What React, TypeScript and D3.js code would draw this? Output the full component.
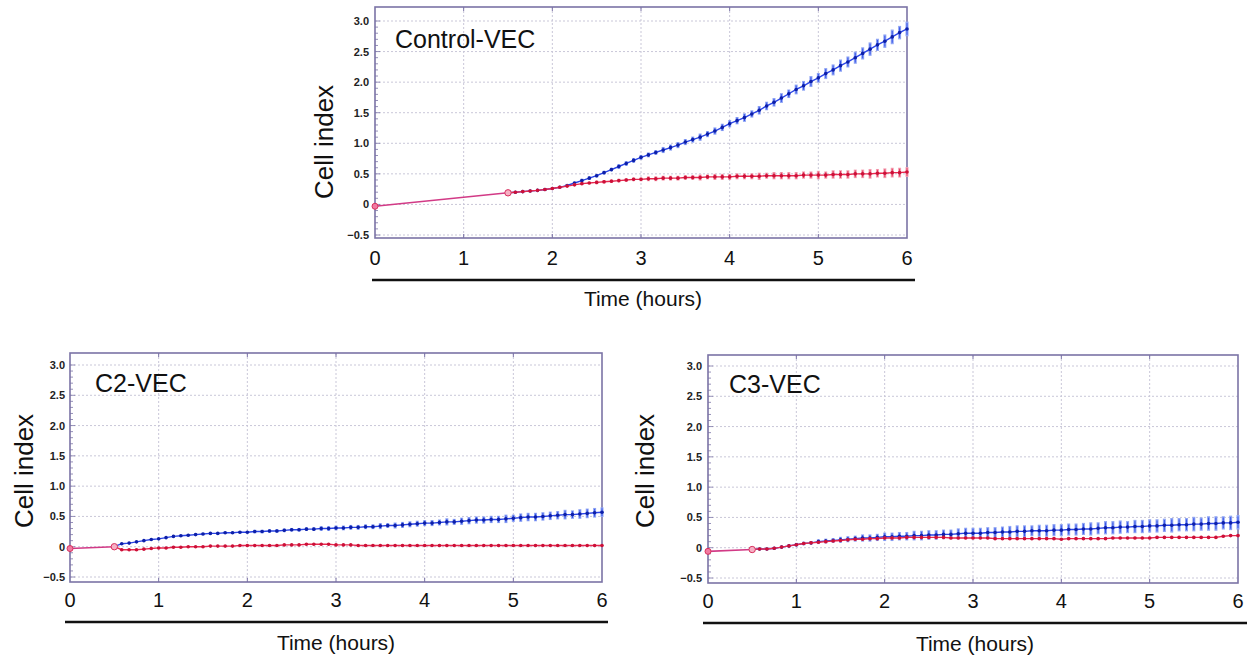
import React, { useRef, useEffect } from 'react';
import * as d3 from 'd3';

// readings every 5 minutes after the first marked point
const STEP = 5 / 60;

const xTicks = [0, 1, 2, 3, 4, 5, 6];
const yTicks = [-0.5, 0, 0.5, 1.0, 1.5, 2.0, 2.5, 3.0];
const yTickLabels = ['\u22120.5', '0', '0.5', '1.0', '1.5', '2.0', '2.5', '3.0'];

// Control-VEC
const controlStart = -0.03;
const controlT0 = 1.5;
const controlBlue = [
  0.19, 0.20, 0.21, 0.22, 0.23, 0.245, 0.26, 0.28, 0.31, 0.35,
  0.39, 0.43, 0.47, 0.52, 0.57, 0.62, 0.67, 0.72, 0.77, 0.81,
  0.85, 0.89, 0.93, 0.97, 1.02, 1.06, 1.10, 1.15, 1.20, 1.26,
  1.32, 1.37, 1.42, 1.48, 1.54, 1.61, 1.67, 1.74, 1.81, 1.88,
  1.94, 2.01, 2.07, 2.14, 2.20, 2.27, 2.33, 2.40, 2.47, 2.54,
  2.61, 2.67, 2.74, 2.81, 2.87,
];
const controlBlueErr = [
  0.01, 0.01, 0.01, 0.01, 0.01, 0.02, 0.02, 0.02, 0.02, 0.02,
  0.03, 0.03, 0.03, 0.03, 0.03, 0.04, 0.04, 0.04, 0.04, 0.04,
  0.04, 0.05, 0.05, 0.05, 0.05, 0.05, 0.06, 0.05, 0.06, 0.06,
  0.06, 0.06, 0.07, 0.06, 0.07, 0.07, 0.07, 0.08, 0.07, 0.08,
  0.08, 0.09, 0.08, 0.09, 0.09, 0.10, 0.09, 0.10, 0.10, 0.11,
  0.10, 0.11, 0.12, 0.11, 0.12,
];
const controlRed = [
  0.19, 0.20, 0.21, 0.22, 0.23, 0.245, 0.26, 0.28, 0.30, 0.32,
  0.34, 0.35, 0.36, 0.37, 0.38, 0.39, 0.40, 0.41, 0.41, 0.42,
  0.42, 0.43, 0.43, 0.43, 0.44, 0.44, 0.44, 0.45, 0.45, 0.45,
  0.45, 0.46, 0.46, 0.46, 0.46, 0.47, 0.47, 0.47, 0.47, 0.47,
  0.48, 0.48, 0.48, 0.48, 0.49, 0.49, 0.49, 0.50, 0.50, 0.50,
  0.51, 0.51, 0.52, 0.52, 0.53,
];
const controlRedErr = [
  0.01, 0.01, 0.01, 0.01, 0.01, 0.01, 0.02, 0.02, 0.02, 0.02,
  0.02, 0.02, 0.03, 0.03, 0.03, 0.03, 0.03, 0.03, 0.03, 0.04,
  0.04, 0.04, 0.04, 0.04, 0.04, 0.04, 0.05, 0.04, 0.05, 0.05,
  0.05, 0.05, 0.05, 0.05, 0.06, 0.05, 0.06, 0.06, 0.06, 0.06,
  0.06, 0.06, 0.07, 0.06, 0.07, 0.07, 0.07, 0.07, 0.07, 0.08,
  0.07, 0.08, 0.08, 0.08, 0.08,
];

// C2-VEC
const c2Start = -0.03;
const c2T0 = 0.5;
const c2Blue = [
  0.00, 0.05, 0.06, 0.08, 0.10, 0.12, 0.13, 0.15, 0.17, 0.18,
  0.19, 0.20, 0.21, 0.22, 0.22, 0.23, 0.23, 0.24, 0.24, 0.25,
  0.25, 0.26, 0.26, 0.27, 0.28, 0.28, 0.29, 0.29, 0.30, 0.30,
  0.31, 0.31, 0.32, 0.32, 0.33, 0.33, 0.34, 0.35, 0.35, 0.36,
  0.37, 0.38, 0.39, 0.39, 0.40, 0.41, 0.41, 0.42, 0.43, 0.44,
  0.44, 0.45, 0.45, 0.46, 0.47, 0.48, 0.49, 0.49, 0.50, 0.51,
  0.52, 0.53, 0.53, 0.54, 0.55, 0.56, 0.57,
];
const c2BlueErr = [
  0.00, 0.01, 0.01, 0.01, 0.01, 0.01, 0.01, 0.01, 0.01, 0.02,
  0.02, 0.02, 0.02, 0.02, 0.02, 0.02, 0.02, 0.02, 0.02, 0.03,
  0.03, 0.03, 0.03, 0.03, 0.03, 0.03, 0.03, 0.03, 0.04, 0.04,
  0.04, 0.04, 0.04, 0.04, 0.04, 0.04, 0.05, 0.04, 0.05, 0.05,
  0.05, 0.05, 0.05, 0.05, 0.05, 0.06, 0.05, 0.06, 0.06, 0.06,
  0.06, 0.06, 0.06, 0.07, 0.06, 0.07, 0.07, 0.07, 0.07, 0.07,
  0.07, 0.08, 0.07, 0.08, 0.08, 0.08, 0.08,
];
const c2Red = [
  0.00, -0.05, -0.05, -0.05, -0.04, -0.03, -0.02, -0.02, -0.01, -0.01,
  0.00, 0.00, 0.00, 0.01, 0.01, 0.01, 0.01, 0.02, 0.02, 0.02,
  0.02, 0.02, 0.02, 0.03, 0.03, 0.03, 0.04, 0.04, 0.04, 0.04,
  0.03, 0.03, 0.03, 0.02, 0.02, 0.02, 0.02, 0.02, 0.02, 0.02,
  0.02, 0.02, 0.02, 0.02, 0.02, 0.02, 0.02, 0.02, 0.02, 0.02,
  0.02, 0.02, 0.02, 0.02, 0.02, 0.02, 0.02, 0.02, 0.02, 0.02,
  0.02, 0.02, 0.02, 0.02, 0.02, 0.02, 0.02,
];
const c2RedErr = [
  0.00, 0.01, 0.01, 0.01, 0.01, 0.01, 0.01, 0.01, 0.01, 0.01,
  0.01, 0.01, 0.01, 0.01, 0.01, 0.01, 0.01, 0.01, 0.01, 0.01,
  0.01, 0.01, 0.01, 0.01, 0.01, 0.01, 0.01, 0.01, 0.01, 0.01,
  0.01, 0.01, 0.01, 0.01, 0.01, 0.01, 0.01, 0.01, 0.01, 0.01,
  0.01, 0.01, 0.01, 0.01, 0.01, 0.01, 0.01, 0.01, 0.01, 0.01,
  0.01, 0.01, 0.01, 0.01, 0.01, 0.01, 0.01, 0.01, 0.01, 0.01,
  0.01, 0.01, 0.01, 0.01, 0.01, 0.01, 0.01,
];

// C3-VEC
const c3Start = -0.06;
const c3T0 = 0.5;
const c3Blue = [
  -0.03, -0.02, -0.02, -0.01, 0.01, 0.03, 0.05, 0.07, 0.08, 0.10,
  0.11, 0.12, 0.13, 0.14, 0.15, 0.16, 0.16, 0.17, 0.18, 0.18,
  0.19, 0.19, 0.20, 0.20, 0.21, 0.21, 0.22, 0.22, 0.23, 0.24,
  0.24, 0.24, 0.25, 0.25, 0.26, 0.26, 0.27, 0.27, 0.28, 0.28,
  0.28, 0.29, 0.29, 0.30, 0.30, 0.31, 0.31, 0.32, 0.33, 0.33,
  0.34, 0.34, 0.35, 0.35, 0.36, 0.36, 0.37, 0.37, 0.38, 0.38,
  0.39, 0.39, 0.40, 0.40, 0.41, 0.41, 0.42,
];
const c3BlueErr = [
  0.00, 0.01, 0.01, 0.02, 0.02, 0.02, 0.03, 0.03, 0.03, 0.04,
  0.04, 0.04, 0.05, 0.05, 0.05, 0.06, 0.06, 0.06, 0.07, 0.07,
  0.07, 0.07, 0.08, 0.08, 0.08, 0.08, 0.08, 0.08, 0.09, 0.09,
  0.09, 0.09, 0.09, 0.09, 0.09, 0.10, 0.10, 0.10, 0.09, 0.10,
  0.10, 0.10, 0.10, 0.10, 0.10, 0.10, 0.11, 0.10, 0.11, 0.11,
  0.11, 0.10, 0.11, 0.11, 0.11, 0.11, 0.11, 0.12, 0.11, 0.11,
  0.12, 0.11, 0.12, 0.12, 0.11, 0.12, 0.12,
];
const c3Red = [
  -0.03, -0.02, -0.02, -0.01, 0.01, 0.03, 0.05, 0.07, 0.08, 0.09,
  0.10, 0.11, 0.12, 0.13, 0.14, 0.14, 0.15, 0.15, 0.16, 0.16,
  0.16, 0.17, 0.17, 0.17, 0.17, 0.17, 0.17, 0.16, 0.16, 0.16,
  0.16, 0.16, 0.16, 0.15, 0.15, 0.15, 0.15, 0.15, 0.15, 0.15,
  0.15, 0.15, 0.14, 0.15, 0.15, 0.15, 0.15, 0.15, 0.15, 0.16,
  0.16, 0.16, 0.16, 0.16, 0.16, 0.17, 0.17, 0.17, 0.17, 0.17,
  0.17, 0.17, 0.17, 0.17, 0.19, 0.20, 0.20,
];
const c3RedErr = [
  0.00, 0.01, 0.01, 0.01, 0.01, 0.01, 0.01, 0.02, 0.02, 0.02,
  0.02, 0.02, 0.02, 0.02, 0.02, 0.02, 0.02, 0.02, 0.02, 0.02,
  0.02, 0.02, 0.02, 0.02, 0.02, 0.02, 0.02, 0.02, 0.02, 0.02,
  0.02, 0.02, 0.02, 0.02, 0.02, 0.02, 0.02, 0.02, 0.02, 0.02,
  0.02, 0.02, 0.02, 0.02, 0.02, 0.02, 0.02, 0.02, 0.02, 0.02,
  0.02, 0.02, 0.02, 0.02, 0.02, 0.02, 0.02, 0.02, 0.02, 0.02,
  0.02, 0.02, 0.02, 0.02, 0.02, 0.02, 0.02,
];

const FONT = '"Liberation Sans", Arial, Helvetica, sans-serif';
const FRAME = '#7b73a6';
const GRID = '#c9c7d8';

const panels = [
  {
    title: 'Control-VEC', start: controlStart, t0: controlT0,
    blue: controlBlue, blueErr: controlBlueErr, red: controlRed, redErr: controlRedErr,
    x0: 375, x1: 907, yLo: 235, yHi: 21, top: 7, bottom: 238,
    titleX: 395, titleY: 48, ylabX: 333, ylabY: 142, tickLabX: 369,
    numY: 265, ruleY: 280, ruleX0: 372, ruleX1: 915, timeX: 643, timeY: 306,
  },
  {
    title: 'C2-VEC', start: c2Start, t0: c2T0,
    blue: c2Blue, blueErr: c2BlueErr, red: c2Red, redErr: c2RedErr,
    x0: 70, x1: 602, yLo: 577, yHi: 365, top: 353, bottom: 582,
    titleX: 95, titleY: 392, ylabX: 33, ylabY: 471, tickLabX: 65,
    numY: 607, ruleY: 622, ruleX0: 65, ruleX1: 608, timeX: 336, timeY: 650,
  },
  {
    title: 'C3-VEC', start: c3Start, t0: c3T0,
    blue: c3Blue, blueErr: c3BlueErr, red: c3Red, redErr: c3RedErr,
    x0: 708, x1: 1238, yLo: 578, yHi: 366, top: 355, bottom: 583,
    titleX: 729, titleY: 393, ylabX: 654, ylabY: 471, tickLabX: 702,
    numY: 608, ruleY: 623, ruleX0: 703, ruleX1: 1247, timeX: 975, timeY: 651,
  },
];

const drawPanel = (svg, p) => {
  const x = d3.scaleLinear().domain([0, 6]).range([p.x0, p.x1]);
  const y = d3.scaleLinear().domain([-0.5, 3.0]).range([p.yLo, p.yHi]);
  const g = svg.append('g');

  // grid
  g.selectAll('.vgrid').data(xTicks.slice(1, -1)).enter().append('line')
    .attr('x1', (d) => x(d)).attr('x2', (d) => x(d))
    .attr('y1', p.top).attr('y2', p.bottom)
    .attr('stroke', GRID).attr('stroke-width', 1).attr('stroke-dasharray', '2,2');
  g.selectAll('.hgrid').data(yTicks).enter().append('line')
    .attr('x1', p.x0).attr('x2', p.x1)
    .attr('y1', (d) => y(d)).attr('y2', (d) => y(d))
    .attr('stroke', GRID).attr('stroke-width', 1).attr('stroke-dasharray', '2,2');

  // minor ticks on the left edge
  g.selectAll('.ymin').data(d3.range(-5, 31)).enter().append('line')
    .attr('x1', p.x0).attr('x2', (d) => p.x0 + (d % 5 === 0 ? 5 : 3))
    .attr('y1', (d) => y(d / 10)).attr('y2', (d) => y(d / 10))
    .attr('stroke', FRAME).attr('stroke-width', 0.8);
  // x ticks on top and bottom edges
  g.selectAll('.xt').data(xTicks.slice(1, -1)).enter().append('line')
    .attr('x1', (d) => x(d)).attr('x2', (d) => x(d))
    .attr('y1', p.top).attr('y2', p.top + 4)
    .attr('stroke', FRAME).attr('stroke-width', 1);
  g.selectAll('.xb').data(xTicks.slice(1, -1)).enter().append('line')
    .attr('x1', (d) => x(d)).attr('x2', (d) => x(d))
    .attr('y1', p.bottom).attr('y2', p.bottom - 4)
    .attr('stroke', FRAME).attr('stroke-width', 1);

  // frame
  g.append('rect')
    .attr('x', p.x0).attr('y', p.top)
    .attr('width', p.x1 - p.x0).attr('height', p.bottom - p.top)
    .attr('fill', 'none').attr('stroke', FRAME).attr('stroke-width', 1.6);

  // tick labels
  g.selectAll('.ylab').data(yTicks).enter().append('text')
    .attr('x', p.tickLabX).attr('y', (d) => y(d) + 4)
    .attr('text-anchor', 'end').attr('font-family', FONT)
    .attr('font-size', 11).attr('font-weight', 'bold').attr('fill', '#222')
    .text((d, i) => yTickLabels[i]);
  g.selectAll('.xlab').data(xTicks).enter().append('text')
    .attr('x', (d) => x(d)).attr('y', p.numY)
    .attr('text-anchor', 'middle').attr('font-family', FONT)
    .attr('font-size', 20).attr('fill', '#111')
    .text((d) => d);

  g.append('line')
    .attr('x1', p.ruleX0).attr('x2', p.ruleX1)
    .attr('y1', p.ruleY).attr('y2', p.ruleY)
    .attr('stroke', '#111').attr('stroke-width', 2.5);

  g.append('text')
    .attr('x', p.timeX).attr('y', p.timeY)
    .attr('text-anchor', 'middle').attr('font-family', FONT)
    .attr('font-size', 21).attr('fill', '#111')
    .text('Time (hours)');

  g.append('text')
    .attr('transform', `translate(${p.ylabX}, ${p.ylabY}) rotate(-90)`)
    .attr('text-anchor', 'middle').attr('font-family', FONT)
    .attr('font-size', 26).attr('fill', '#111')
    .text('Cell index');

  g.append('text')
    .attr('x', p.titleX).attr('y', p.titleY)
    .attr('font-family', FONT).attr('font-size', 25).attr('fill', '#111')
    .text(p.title);

  const line = d3.line().x((d) => x(d[0])).y((d) => y(d[1]));

  const series = [
    { vals: p.blue, err: p.blueErr, line: '#2a44e6', dot: '#0d1fa8', bar: '#8ea4f4', core: '#3a55e8' },
    { vals: p.red, err: p.redErr, line: '#e8284f', dot: '#cc1038', bar: '#f4a0b2', core: '#e53a5e' },
  ];

  series.forEach((s) => {
    const pts = s.vals.map((v, i) => [p.t0 + i * STEP, v]);
    g.selectAll(null).data(pts).enter().append('line')
      .attr('x1', (d) => x(d[0])).attr('x2', (d) => x(d[0]))
      .attr('y1', (d, i) => y(d[1] - (s.err[i] ?? 0)))
      .attr('y2', (d, i) => y(d[1] + (s.err[i] ?? 0)))
      .attr('stroke', s.bar).attr('stroke-width', 3);
    g.selectAll(null).data(pts).enter().append('line')
      .attr('x1', (d) => x(d[0])).attr('x2', (d) => x(d[0]))
      .attr('y1', (d, i) => y(d[1] - (s.err[i] ?? 0) * 0.8))
      .attr('y2', (d, i) => y(d[1] + (s.err[i] ?? 0) * 0.8))
      .attr('stroke', s.core).attr('stroke-width', 1);
    g.append('path').datum(pts)
      .attr('d', line).attr('fill', 'none')
      .attr('stroke', s.line).attr('stroke-width', 1.4);
    g.selectAll(null).data(pts.slice(1)).enter().append('circle')
      .attr('cx', (d) => x(d[0])).attr('cy', (d) => y(d[1]))
      .attr('r', 1.8).attr('fill', s.dot);
  });

  // shared baseline segment before the treatment point
  g.append('path')
    .datum([[0, p.start], [p.t0, p.red[0]]])
    .attr('d', line).attr('fill', 'none')
    .attr('stroke', '#d23a86').attr('stroke-width', 1.6);
  g.append('circle')
    .attr('cx', x(0)).attr('cy', y(p.start)).attr('r', 3)
    .attr('fill', '#f07aa0').attr('stroke', '#d8305e').attr('stroke-width', 1);
  g.append('circle')
    .attr('cx', x(p.t0)).attr('cy', y(p.red[0])).attr('r', 3.2)
    .attr('fill', '#f6b0c4').attr('stroke', '#d8305e').attr('stroke-width', 1);
};

const App = () => {
  const ref = useRef(null);

  useEffect(() => {
    const svg = d3.select(ref.current);
    svg.selectAll('*').remove();
    svg.append('rect').attr('width', 1247).attr('height', 655).attr('fill', '#fff');
    panels.forEach((p) => drawPanel(svg, p));
  }, []);

  return (
    <div style={{ position: 'absolute', left: 0, top: 0 }}>
      <svg ref={ref} width={1247} height={655} style={{ display: 'block' }} />
    </div>
  );
};

export default App;
